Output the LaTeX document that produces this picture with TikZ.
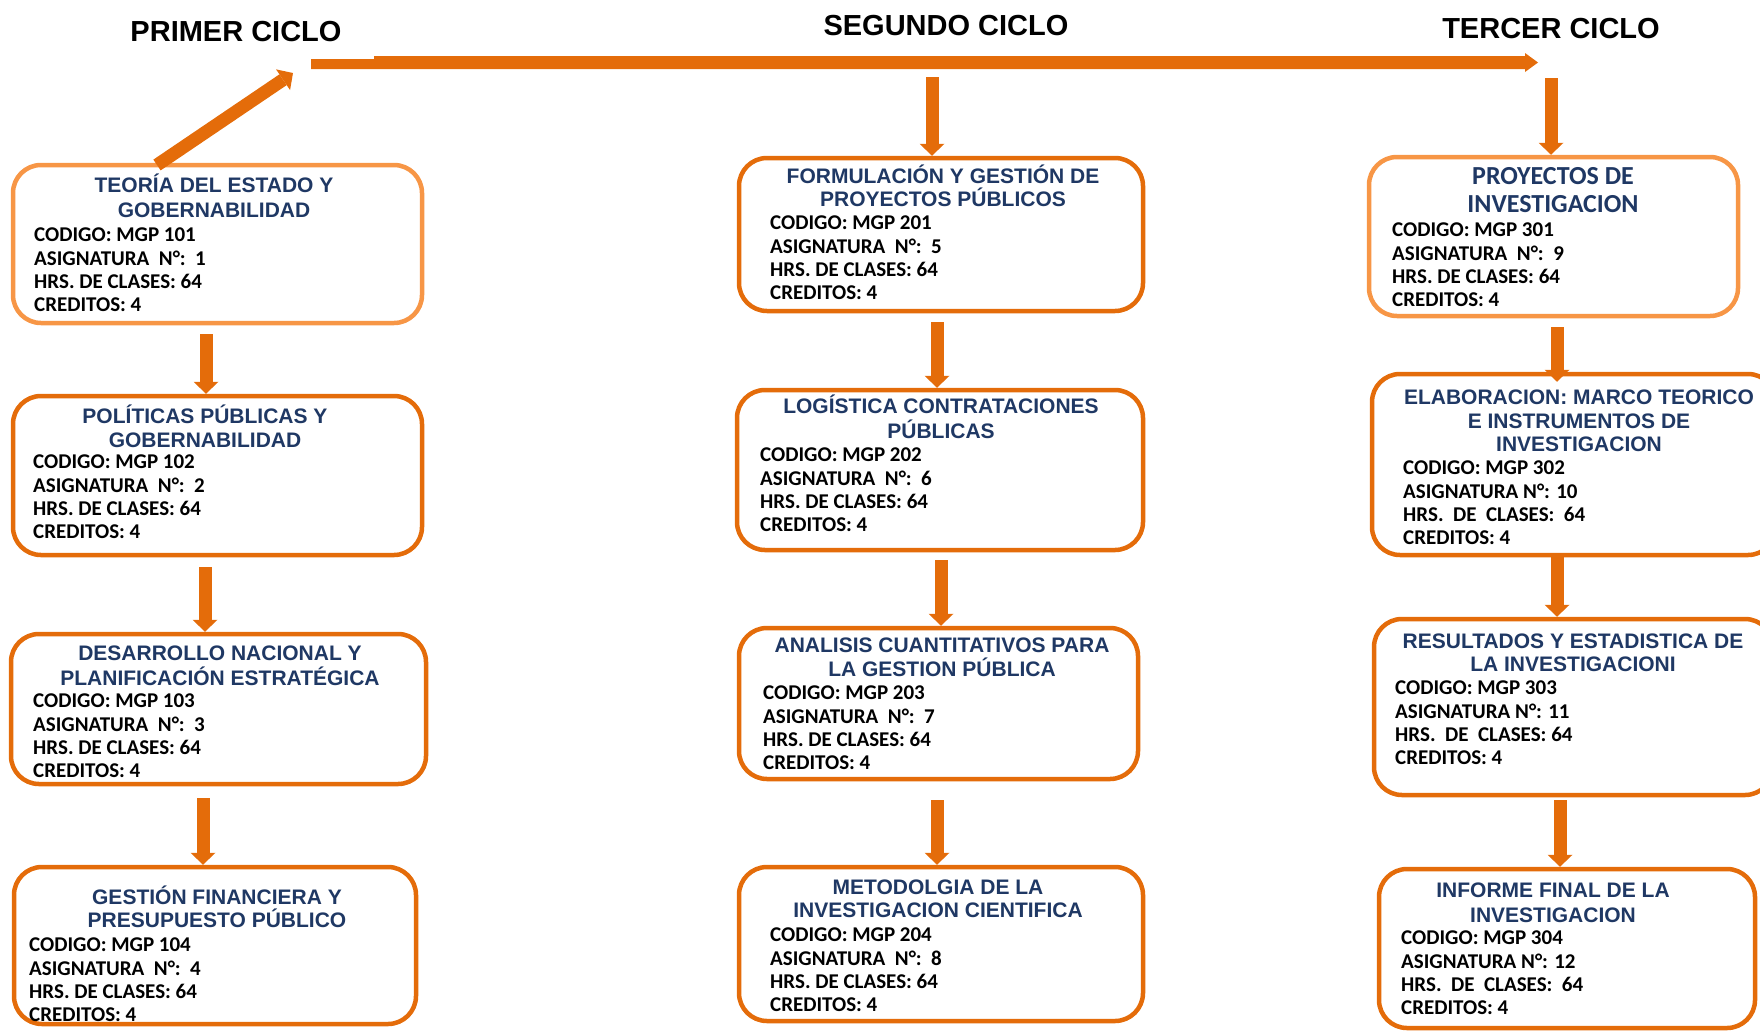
\documentclass[tikz,border=0pt]{standalone}
\usepackage{fontspec}
\usetikzlibrary{calc,fit}
\newfontfamily\myArialFam{Liberation Sans}
\newfontfamily\myCalFam{Carlito}
\definecolor{orng}{HTML}{E46C0A}
\definecolor{orngl}{HTML}{F79646}
\definecolor{ttlblue}{HTML}{1F3864}
\newcommand\myTtlFont{\myArialFam\bfseries\fontsize{21}{24}\selectfont}
\newcommand\myTtlCFont{\myCalFam\bfseries\fontsize{26}{28}\selectfont}
\newcommand\myBdyFont{\myCalFam\bfseries\fontsize{21}{24}\selectfont}
\newcommand\myHdrFont{\myArialFam\bfseries\fontsize{29}{32}\selectfont}
\tikzset{
  boxd/.style={draw=orng, line width=4.5pt, rounded corners=28pt, fill=white, inner sep=0pt},
  boxl/.style={boxd, draw=orngl},
  ttl/.style={font=\myTtlFont, text=ttlblue, inner sep=0pt, text height=15pt, text depth=0pt, anchor=center},
  ttlc/.style={ttl, font=\myTtlCFont, text height=16.7pt},
  bdy/.style={font=\myBdyFont, text=black, inner sep=0pt, text height=13.5pt, text depth=0pt, anchor=west},
  hdr/.style={font=\myHdrFont, text=black, inner sep=0pt, text height=20.8pt, text depth=0pt, anchor=center},
}
% arrow from start to tip: thick shaft with triangular head
\newcommand\arrowfromto[2]{%
  \coordinate (hs) at (#1);
  \coordinate (ht) at (#2);
  \coordinate (hb) at ($(ht)!12pt!(hs)$);
  \draw[orng, line width=13pt] (hs) -- (hb);
  \fill[orng] (ht) -- ($(hb)!12.5pt!90:(ht)$) -- ($(hb)!12.5pt!-90:(ht)$) -- cycle;
}
% four body lines
\newcommand\bodyblock[6]{%
  \node[bdy] (#1c) at (#2,#3) {CODIGO: MGP #4};
  \node[bdy] (#1a) at ($(#1c.west)+(0,23.3)$) {#5};
  \node[bdy] (#1h) at ($(#1a.west)+(0,23.3)$) {#6};
  \node[bdy] (#1k) at ($(#1h.west)+(0,23.3)$) {CREDITOS: 4};
}
\begin{document}
\begin{tikzpicture}[x=1pt,y=-1pt]
\useasboundingbox (0,0) rectangle (1760,1031);

% headers
\node[hdr] (h1) at (236,31) {PRIMER CICLO};
\node[hdr] (h2) at (946,25) {SEGUNDO CICLO};
\node[hdr] (h3) at (1551,28) {TERCER CICLO};

% boxes
\node[boxl, fit={(13,165) (422,323)}] (b101) {};
\node[boxd, fit={(13,396) (422,555)}] (b102) {};
\node[boxd, fit={(11,634) (426,784)}] (b103) {};
\node[boxd, fit={(14,867) (416,1024)}] (b104) {};
\node[boxd, fit={(739,158) (1143,311)}] (b201) {};
\node[boxd, fit={(737,390) (1143,550)}] (b202) {};
\node[boxd, fit={(739,628) (1138,779)}] (b203) {};
\node[boxd, fit={(739,867) (1143,1021)}] (b204) {};
\node[boxl, fit={(1369,157) (1738,316)}] (b301) {};
\node[boxd, fit={(1372,374) (1776,555)}] (b302) {};
\node[boxd, fit={(1374,619) (1773,795)}] (b303) {};
\node[boxd, fit={(1379,869) (1755,1028)}] (b304) {};

% top connector line
\coordinate (tl1) at (311,64);
\coordinate (tl2) at (1538,62.5);
\fill[orng] (tl1 |- 0,59) -- (374,59) -- (374,56) -- (1525,56) -- (1525,53) -- (tl2)
  -- (1525,72) -- (1525,69) -- (tl1 |- 0,69) -- cycle;

% diagonal arrow from first box to the line
\coordinate (dg) at (293,73);
\arrowfromto{157,165}{dg}

% arrows from the top line
\coordinate (c2) at (932,0);
\coordinate (c3) at (1551,0);
\arrowfromto{932,77}{c2 |- b201.north}
\arrowfromto{1551,78}{c3 |- b301.north}

% column arrows
\coordinate (x11) at (206,0);
\coordinate (x12) at (205,0);
\coordinate (x13) at (203,0);
\arrowfromto{$(x11 |- b101.south)+(0,9)$}{x11 |- b102.north}
\arrowfromto{$(x12 |- b102.south)+(0,10)$}{x12 |- b103.north}
\arrowfromto{$(x13 |- b103.south)+(0,12)$}{x13 |- b104.north}
\coordinate (x21) at (937,0);
\coordinate (x22) at (941,0);
\coordinate (x23) at (937,0);
\arrowfromto{$(x21 |- b201.south)+(0,9)$}{x21 |- b202.north}
\arrowfromto{$(x22 |- b202.south)+(0,8)$}{x22 |- b203.north}
\arrowfromto{$(x23 |- b203.south)+(0,19)$}{x23 |- b204.north}
\coordinate (x31) at (1557,0);
\coordinate (x32) at (1557,0);
\coordinate (x33) at (1560,0);
\arrowfromto{$(x31 |- b301.south)+(0,9)$}{$(x31 |- b302.north)+(0,10)$}
\arrowfromto{$(x32 |- b302.south)+(0,-2)$}{x32 |- b303.north}
\arrowfromto{$(x33 |- b303.south)+(0,3)$}{x33 |- b304.north}

% titles
\node[ttl] (t101a) at (214,185) {TEORÍA DEL ESTADO Y};
\node[ttl] (t101b) at (214,210) {GOBERNABILIDAD};
\node[ttl] (t102a) at (205,416) {POLÍTICAS PÚBLICAS Y};
\node[ttl] (t102b) at (205,440) {GOBERNABILIDAD};
\node[ttl] (t103a) at (220,653) {DESARROLLO NACIONAL Y};
\node[ttl] (t103b) at (220,678) {PLANIFICACIÓN ESTRATÉGICA};
\node[ttl] (t104a) at (217,897) {GESTIÓN FINANCIERA Y};
\node[ttl] (t104b) at (217,920) {PRESUPUESTO PÚBLICO};
\node[ttl] (t201a) at (943,176) {FORMULACIÓN Y GESTIÓN DE};
\node[ttl] (t201b) at (943,199) {PROYECTOS PÚBLICOS};
\node[ttl] (t202a) at (941,406) {LOGÍSTICA CONTRATACIONES};
\node[ttl] (t202b) at (941,431) {PÚBLICAS};
\node[ttl] (t203a) at (942,645) {ANALISIS CUANTITATIVOS PARA};
\node[ttl] (t203b) at (942,669) {LA GESTION PÚBLICA};
\node[ttl] (t204a) at (938,887) {METODOLGIA DE LA};
\node[ttl] (t204b) at (938,910) {INVESTIGACION CIENTIFICA};
\node[ttlc] (t301a) at (1553,176) {PROYECTOS DE};
\node[ttlc] (t301b) at (1553,204) {INVESTIGACION};
\node[ttl] (t302a) at (1579,397) {ELABORACION: MARCO TEORICO};
\node[ttl] (t302b) at (1579,421) {E INSTRUMENTOS DE};
\node[ttl] (t302c) at (1579,444) {INVESTIGACION};
\node[ttl] (t303a) at (1573,641) {RESULTADOS Y ESTADISTICA DE};
\node[ttl] (t303b) at (1573,664) {LA INVESTIGACIONI};
\node[ttl] (t304a) at (1553,890) {INFORME FINAL DE LA};
\node[ttl] (t304b) at (1553,915) {INVESTIGACION};

% bodies
\bodyblock{d101}{34}{235}{101}{ASIGNATURA\ \ N°:\ \ 1}{HRS. DE CLASES: 64}
\bodyblock{d102}{33}{462}{102}{ASIGNATURA\ \ N°:\ \ 2}{HRS. DE CLASES: 64}
\bodyblock{d103}{33}{701}{103}{ASIGNATURA\ \ N°:\ \ 3}{HRS. DE CLASES: 64}
\bodyblock{d104}{29}{945}{104}{ASIGNATURA\ \ N°:\ \ 4}{HRS. DE CLASES: 64}
\bodyblock{d201}{770}{223}{201}{ASIGNATURA\ \ N°:\ \ 5}{HRS. DE CLASES: 64}
\bodyblock{d202}{760}{455}{202}{ASIGNATURA\ \ N°:\ \ 6}{HRS. DE CLASES: 64}
\bodyblock{d203}{763}{693}{203}{ASIGNATURA\ \ N°:\ \ 7}{HRS. DE CLASES: 64}
\bodyblock{d204}{770}{935}{204}{ASIGNATURA\ \ N°:\ \ 8}{HRS. DE CLASES: 64}
\bodyblock{d301}{1392}{230}{301}{ASIGNATURA\ \ N°:\ \ 9}{HRS. DE CLASES: 64}
\bodyblock{d302}{1403}{468}{302}{ASIGNATURA N°: 10}{HRS.\ \ DE\ \ CLASES:\ \ 64}
\bodyblock{d303}{1395}{688}{303}{ASIGNATURA N°: 11}{HRS.\ \ DE\ \ CLASES: 64}
\bodyblock{d304}{1401}{938}{304}{ASIGNATURA N°: 12}{HRS.\ \ DE\ \ CLASES:\ \ 64}
\end{tikzpicture}
\end{document}
